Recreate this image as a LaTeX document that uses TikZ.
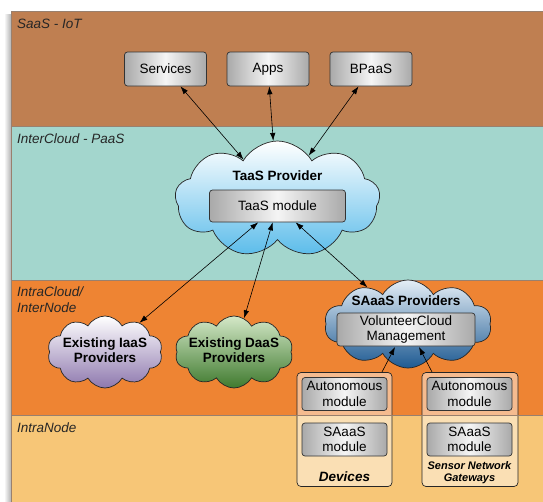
\documentclass[tikz,border=0pt]{standalone}
\usepackage{fontspec}
\setmainfont{Liberation Sans}
\usetikzlibrary{shapes.symbols,arrows.meta,shadings}
\definecolor{bandA}{HTML}{BF7F51}
\definecolor{bandB}{HTML}{A3D6CD}
\definecolor{bandC}{HTML}{EE8433}
\definecolor{bandD}{HTML}{F7C677}
\definecolor{bandline}{HTML}{6E4A30}
\definecolor{taasbot}{HTML}{5BBCEA}
\definecolor{iaasbot}{HTML}{8E78AE}
\definecolor{daasbot}{HTML}{3F7A2E}
\definecolor{daastop}{HTML}{D4E8C8}
\definecolor{saasbot}{HTML}{1E5A92}
\definecolor{saastop}{HTML}{E4EEF6}
\definecolor{boxgray}{HTML}{A9A9A9}
\begin{document}
\begin{tikzpicture}[x=1pt,y=-1pt,
  every node/.style={font=\fontsize{13.5}{15.5}\selectfont, align=center, inner sep=0pt},
  band/.style={draw=bandline!70, line width=0.7pt},
  bandlabel/.style={anchor=north west, font=\fontsize{13.5}{15.5}\selectfont\itshape, align=left, text=black!85},
  gbox/.style={draw=black!80, line width=0.7pt, rounded corners=3pt,
    left color=boxgray, right color=boxgray, middle color=white!92!gray},
  cloudbase/.style={cloud, cloud puffs=10, cloud puff arc=120, draw=black!85, line width=0.7pt},
  container/.style={draw=black!85, line width=0.7pt, rounded corners=4pt, fill=white, fill opacity=0.45, text opacity=1},
  arr/.style={line width=0.6pt, {Latex[length=8pt,width=5.5pt]}-{Latex[length=8pt,width=5.5pt]}},
  arr1/.style={line width=0.6pt, -{Latex[length=8pt,width=5.5pt]}},
  title/.style={font=\fontsize{13.5}{15.5}\selectfont\bfseries}
]
\useasboundingbox (0,0) rectangle (543,501);
\fill[white] (0,0) rectangle (543,501);
% left shadow
\shade[left color=white, right color=black!30] (4,14) rectangle (11,501);
% bands
\fill[bandA] (11,11) rectangle (545,126);
\fill[bandB] (11,126) rectangle (545,280);
\fill[bandC] (11,280) rectangle (545,415);
\fill[bandD] (11,415) rectangle (545,503);
\draw[band] (545,11) -- (11,11) -- (11,503);
\draw[band] (11,126) -- (545,126);
\draw[band] (11,280) -- (545,280);
% band labels
\node[bandlabel] (l1) at (17,19) {SaaS - IoT};
\node[bandlabel] (l2) at (17,134) {InterCloud - PaaS};
\node[bandlabel] (l3) at (17,287) {IntraCloud/\\InterNode};
\node[bandlabel] (l4) at (17,423) {IntraNode};
% top boxes
\node[gbox, minimum width=82pt, minimum height=34pt] (services) at (165.5,69) {Services};
\node[gbox, minimum width=82pt, minimum height=34pt] (apps) at (268,69) {Apps};
\node[gbox, minimum width=82pt, minimum height=34pt] (bpaas) at (371,69) {BPaaS};
% TaaS cloud
\node[cloudbase, cloud puffs=9, top color=white, bottom color=taasbot, minimum width=205pt, minimum height=116pt] (taas) at (277.5,199) {};
\node[title] (taastitle) at (277.5,176) {TaaS Provider};
\node[gbox, minimum width=136pt, minimum height=32pt] (taasmod) at (277.5,206) {TaaS module};
% IaaS / DaaS clouds
\node[cloudbase, top color=white, bottom color=iaasbot, minimum width=115pt, minimum height=72pt] (iaas) at (105,352) {};
\node[title] (iaastext) at (105,350) {Existing IaaS\\Providers};
\node[cloudbase, top color=daastop, bottom color=daasbot, minimum width=118pt, minimum height=72pt] (daas) at (234,352) {};
\node[title] (daastext) at (234,350) {Existing DaaS\\Providers};
% SAaaS cloud
\node[cloudbase, top color=saastop, bottom color=saasbot, minimum width=167pt, minimum height=88pt] (saas) at (408,324) {};
\node[title] (saastitle) at (406,301) {SAaaS Providers};
\node[gbox, minimum width=138pt, minimum height=33pt] (vcm) at (406,329.5) {VolunteerCloud\\Management};
% containers
\node[container, minimum width=95pt, minimum height=114pt] (devices) at (344.5,429.5) {};
\node[container, minimum width=96pt, minimum height=114pt] (sensor) at (470,429.5) {};
\draw[band] (11,415) -- (545,415);
\node[gbox, minimum width=85pt, minimum height=33pt] (autodev) at (344.5,394) {Autonomous\\module};
\node[gbox, minimum width=85pt, minimum height=33pt] (saasdev) at (344.5,439.5) {SAaaS\\module};
\node[gbox, minimum width=85pt, minimum height=33pt] (autosen) at (469.5,394) {Autonomous\\module};
\node[gbox, minimum width=85pt, minimum height=33pt] (saassen) at (469.5,439.5) {SAaaS\\module};
\node[font=\fontsize{13.5}{15.5}\selectfont\bfseries\itshape] (devlabel) at (344.5,477) {Devices};
\node[font=\fontsize{11}{12}\selectfont\bfseries\itshape] (senlabel) at (469.5,473) {Sensor Network\\Gateways};
% arrows
\draw[arr] (services) -- (taas);
\draw[arr] (apps) -- (taas);
\draw[arr] (bpaas) -- (taas);
\draw[arr] (taasmod) -- (iaas);
\draw[arr] (taasmod) -- (daas);
\draw[arr] (taasmod) -- (saas);
\coordinate (d1) at (382,372);
\coordinate (v1) at (395,347);
\coordinate (s1) at (432,372);
\coordinate (v2) at (419,347);
\draw[arr1] (d1) -- (v1);
\draw[arr1] (s1) -- (v2);
\end{tikzpicture}
\end{document}
